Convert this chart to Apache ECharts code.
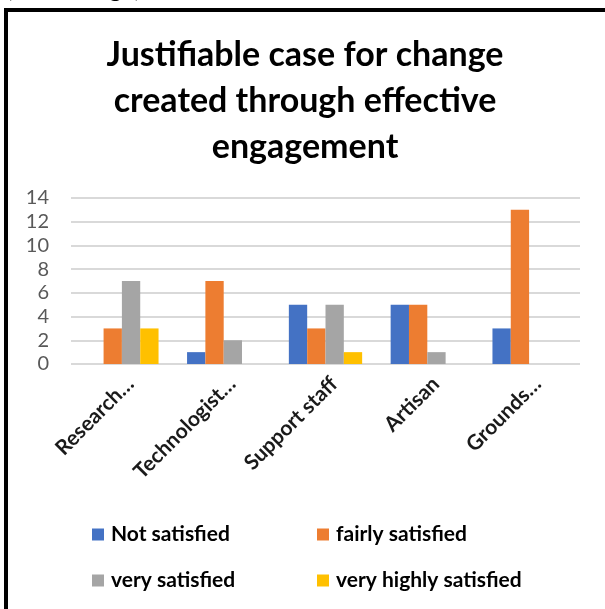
<!DOCTYPE html>
<html>
<head>
<meta charset="utf-8">
<script src="https://cdn.jsdelivr.net/npm/echarts@6/dist/echarts.min.js"></script>
<style>
html,body{margin:0;padding:0;background:#fff;}
#chart{width:605px;height:609px;}
</style>
</head>
<body>
<div id="chart"></div>
<script>
const categories = ['Research…', 'Technologist…', 'Support staff', 'Artisan', 'Grounds…'];
const notSatisfied = [0, 1, 5, 5, 3];
const fairlySatisfied = [3, 7, 3, 5, 13];
const verySatisfied = [7, 2, 5, 1, 0];
const veryHighlySatisfied = [3, 0, 1, 0, 0];
const seriesNames = ['Not satisfied', 'fairly satisfied', 'very satisfied', 'very highly satisfied'];
const seriesColors = ['#4472C4', '#ED7D31', '#A5A5A5', '#FFC000'];
const titleText = 'Justifiable case for change\ncreated through effective\nengagement';

const chart = echarts.init(document.getElementById('chart'), null, {renderer: 'canvas'});
const FONT = 'Lato, "Open Sans", sans-serif';
const values = [notSatisfied, fairlySatisfied, verySatisfied, veryHighlySatisfied];

const option = {
  backgroundColor: '#ffffff',
  animation: false,
  graphic: [
    {
      type: 'rect',
      shape: {x: 6, y: 10, width: 700, height: 700},
      style: {fill: 'none', stroke: '#000000', lineWidth: 4},
      silent: true
    },
    {
      type: 'text',
      left: 6,
      top: -24,
      style: {text: '(Percentage)', font: '25px Lato, sans-serif', fill: '#000000'},
      silent: true
    },
    {
      type: 'text',
      x: 305,
      y: 32,
      style: {
        text: titleText,
        font: 'bold 34px Lato, sans-serif',
        fill: '#000000',
        textAlign: 'center',
        align: 'center',
        textVerticalAlign: 'top',
        verticalAlign: 'top',
        lineHeight: 46
      },
      silent: true
    }
  ],
  legend: [
    {
      orient: 'vertical',
      left: 92,
      top: 524,
      padding: 0,
      itemWidth: 12,
      itemHeight: 12,
      itemGap: 25,
      icon: 'rect',
      data: [seriesNames[0], seriesNames[2]],
      textStyle: {fontFamily: FONT, fontSize: 21, fontWeight: 'bold', color: '#000000', padding: [0, 0, 0, 2]}
    },
    {
      orient: 'vertical',
      left: 317,
      top: 524,
      padding: 0,
      itemWidth: 12,
      itemHeight: 12,
      itemGap: 25,
      icon: 'rect',
      data: [seriesNames[1], seriesNames[3]],
      textStyle: {fontFamily: FONT, fontSize: 21, fontWeight: 'bold', color: '#000000', padding: [0, 0, 0, 2]}
    }
  ],
  grid: {left: 71, right: 25, top: 198, bottom: 245, containLabel: false},
  xAxis: {
    type: 'category',
    data: categories,
    axisLine: {show: false},
    axisTick: {show: false},
    axisLabel: {
      interval: 0,
      rotate: 45,
      margin: 8,
      verticalAlign: 'top',
      lineHeight: 24,
      fontFamily: FONT,
      fontSize: 21,
      fontWeight: 'bold',
      color: '#1a1a1a'
    }
  },
  yAxis: {
    type: 'value',
    min: 0,
    max: 14,
    interval: 2,
    axisLine: {show: false},
    axisTick: {show: false},
    axisLabel: {margin: 22, fontFamily: FONT, fontSize: 20, color: '#595959'},
    splitLine: {lineStyle: {color: '#d9d9d9', width: 2}}
  },
  series: seriesNames.map((name, i) => ({
    name: name,
    type: 'bar',
    data: values[i],
    barGap: '0%',
    barCategoryGap: '28%',
    itemStyle: {color: seriesColors[i]}
  }))
};
chart.setOption(option);
</script>
</body>
</html>
